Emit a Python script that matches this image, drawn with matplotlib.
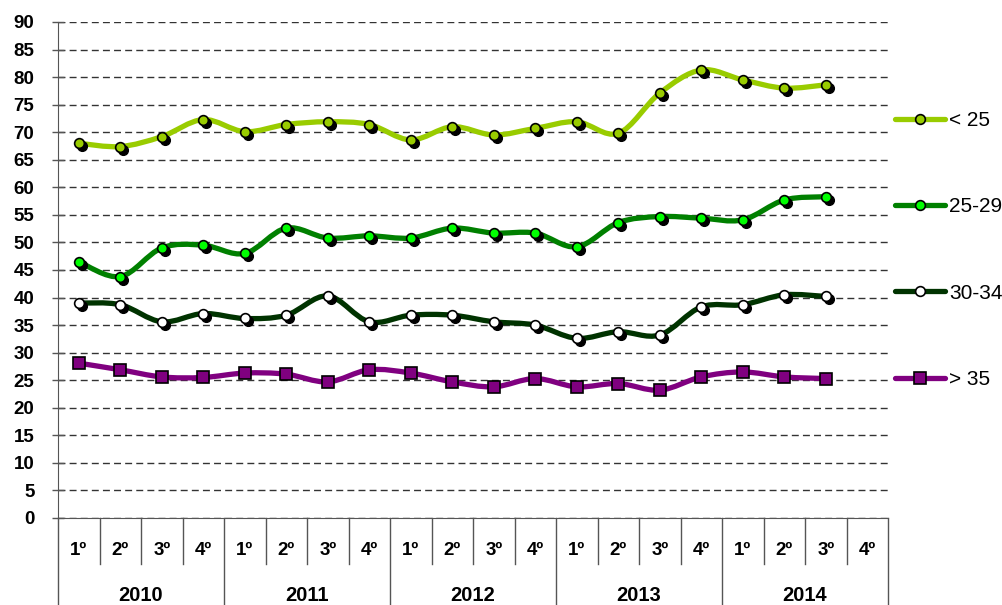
import matplotlib
matplotlib.use("Agg")
import matplotlib.pyplot as plt
import matplotlib.transforms as mtransforms
from matplotlib.path import Path
from matplotlib.patches import PathPatch
from matplotlib.lines import Line2D
import numpy as np

plt.rcParams['font.family'] = ['Liberation Sans', 'DejaVu Sans']

# Data
years = ['2010', '2011', '2012', '2013', '2014']
quarters = ['1º', '2º', '3º', '4º']
under_25 = [68.0, 67.4, 69.2, 72.3, 70.1, 71.4, 71.9, 71.4, 68.6, 71.0,
            69.5, 70.7, 71.9, 69.8, 77.1, 81.3, 79.5, 78.0, 78.6]
age_25_29 = [46.5, 43.8, 49.0, 49.5, 48.0, 52.6, 50.8, 51.2, 50.8, 52.6,
             51.7, 51.7, 49.2, 53.6, 54.7, 54.4, 54.1, 57.7, 58.3]
age_30_34 = [39.0, 38.7, 35.6, 37.1, 36.2, 36.8, 40.3, 35.6, 36.8, 36.8,
             35.6, 35.0, 32.6, 33.8, 33.2, 38.3, 38.7, 40.5, 40.2]
over_35 = [28.1, 26.9, 25.6, 25.5, 26.3, 26.1, 24.7, 26.9, 26.3, 24.7,
           23.8, 25.3, 23.8, 24.4, 23.2, 25.6, 26.5, 25.6, 25.3]

series = [
    ('< 25', under_25, '#99CC00', '#99CC00', 'o'),
    ('25-29', age_25_29, '#008000', '#00FF00', 'o'),
    ('30-34', age_30_34, '#003300', '#FFFFFF', 'o'),
    ('> 35', over_35, '#800080', '#800080', 's'),
]

n_slots = len(years) * len(quarters)

fig = plt.figure(figsize=(10.02, 6.05), dpi=100)
ax = fig.add_axes([58 / 1002, (605 - 518) / 605, 830 / 1002, 496 / 605])


def smooth_path(xs, ys, tension=1 / 6):
    # Bezier curve through the points (smoothed line look)
    pts = np.column_stack([xs, ys])
    verts = [pts[0]]
    codes = [Path.MOVETO]
    n = len(pts)
    for i in range(n - 1):
        p0 = pts[i - 1] if i > 0 else pts[i]
        p1 = pts[i]
        p2 = pts[i + 1]
        p3 = pts[i + 2] if i + 2 < n else pts[i + 1]
        c1 = p1 + (p2 - p0) * tension
        c2 = p2 - (p3 - p1) * tension
        verts += [c1, c2, p2]
        codes += [Path.CURVE4] * 3
    return Path(verts, codes)


shadow = ax.transData + mtransforms.ScaledTranslation(3 / 100, -3 / 100, fig.dpi_scale_trans)

handles = []
for label, vals, lcolor, mface, mk in series:
    x = np.arange(len(vals))
    patch = PathPatch(smooth_path(x, vals), fill=False, edgecolor=lcolor,
                      linewidth=3.8, capstyle='round', joinstyle='round', zorder=3)
    ax.add_patch(patch)
    ms = 7 if mk == 'o' else 8.5
    if mk == 'o':
        ax.plot(x, vals, 'o', color='black', markersize=ms, transform=shadow,
                zorder=4, clip_on=False)
    ax.plot(x, vals, mk, markerfacecolor=mface, markeredgecolor='black',
            markeredgewidth=1.2, markersize=ms, zorder=5, clip_on=False)
    handles.append(Line2D([], [], color=lcolor, linewidth=3.8, solid_capstyle='round',
                          marker=mk, markerfacecolor=mface, markeredgecolor='black',
                          markeredgewidth=1.2, markersize=ms))

ax.set_xlim(-0.5, n_slots - 0.5)
ax.set_ylim(0, 90)
ax.set_yticks(np.arange(0, 91, 5))
ax.set_yticklabels([str(v) for v in range(0, 91, 5)], fontweight='bold', fontsize=13.5)
ax.yaxis.grid(True, linestyle=(0, (5, 3)), color='#333333', linewidth=1)
ax.set_axisbelow(True)
ax.tick_params(axis='y', direction='inout', length=8, width=1, color='#555555', pad=13)
ax.set_xticks([])
for s in ['top', 'right']:
    ax.spines[s].set_visible(False)
ax.spines['left'].set_color('#555555')
ax.spines['bottom'].set_color('#555555')

# Category axis with two levels
trans = mtransforms.blended_transform_factory(ax.transData, ax.transAxes)
for i in range(n_slots + 1):
    xb = i - 0.5
    y_end = -0.18 if i % 4 == 0 else -0.0927
    ax.plot([xb, xb], [0, y_end], color='#555555', lw=1, transform=trans, clip_on=False)
for i in range(n_slots):
    ax.text(i, -0.0746, quarters[i % 4], transform=trans, ha='center', va='baseline',
            fontsize=13.5, fontweight='bold')
for j, yr in enumerate(years):
    ax.text(j * 4 + 1.5, -0.168, yr, transform=trans, ha='center', va='baseline',
            fontsize=14.5, fontweight='bold')

leg = ax.legend(handles, [s[0] for s in series], loc='upper left',
                bbox_to_anchor=(895 / 1002, (605 - 111) / 605), bbox_transform=fig.transFigure,
                frameon=False, fontsize=15, handlelength=2.4, handletextpad=0.2,
                labelspacing=3.23, borderaxespad=0, borderpad=0)

fig.savefig('out.png', dpi=100)
